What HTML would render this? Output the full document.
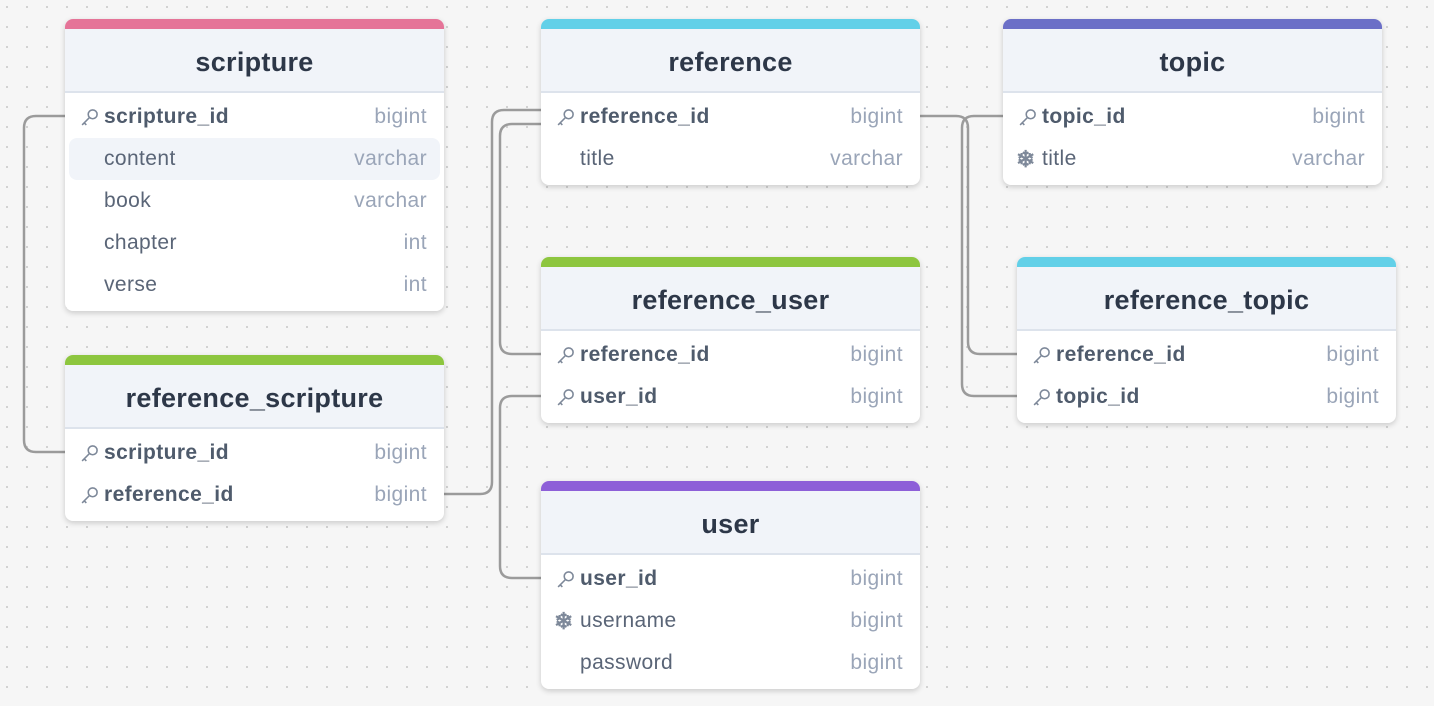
<!DOCTYPE html>
<html><head><meta charset="utf-8"><style>
body{margin:0;width:1434px;height:706px;overflow:hidden;background-color:#f6f6f6;background-image:radial-gradient(circle,#cfcfcf 1px,transparent 1.2px);background-size:20px 20px;background-position:-3px -3px;font-family:"Liberation Sans",sans-serif;position:relative}
.t{position:absolute;width:379px;background:#fff;border-radius:8px;box-shadow:0 2px 6px rgba(0,0,0,.18);overflow:hidden}
.bar{height:10px}
.h{height:62px;background:#f1f4f9;border-bottom:2px solid #dde3ec;text-align:center;line-height:66px;font-size:27px;font-weight:bold;color:#2d3748;letter-spacing:0.3px}
.rows{padding:3px 0 5px}
.r{height:42px;line-height:42px;position:relative;font-size:21px;letter-spacing:0.4px;color:#5a6577}
.r.hl{background:#f1f4f9;margin:0 4px;border-radius:8px}
.r.hl .n{left:35px}.r.hl .ty{right:13px}
.n{position:absolute;left:39px}
.n.b{font-weight:bold;color:#4f5b6c}
.ty{position:absolute;right:17px;color:#9aa5b8}
.ic{position:absolute;left:15px;top:12px;width:19px;height:19px}
.sn{position:absolute;left:13px;top:0;font-size:23px;font-weight:bold;color:#7d8899}
svg.c{position:absolute;left:0;top:0}
</style></head><body>
<svg class="c" width="1434" height="706"><g fill="none" stroke="#9b9b9b" stroke-width="2.5">
<path d="M65 116 H36 Q24 116 24 128 V440 Q24 452 36 452 H65"/>
<path d="M444 494 H480 Q492 494 492 482 V122 Q492 110 504 110 H541"/>
<path d="M541 354 H512 Q500 354 500 342 V136 Q500 124 512 124 H541"/>
<path d="M541 396 H512 Q500 396 500 408 V566 Q500 578 512 578 H541"/>
<path d="M920 116 H956 Q968 116 968 128 V342 Q968 354 980 354 H1017"/>
<path d="M1003 116 H974 Q962 116 962 128 V384 Q962 396 974 396 H1017"/>
</g></svg>

<div class="t" style="left:65px;top:19px"><div class="bar" style="background:#e57498"></div><div class="h">scripture</div><div class="rows">
<div class="r"><svg class="ic" viewBox="0 0 18 18"><g fill="none" stroke="#7d8899" stroke-width="1.5"><circle cx="12" cy="6" r="4.2"/><path d="M9 9 L2 16 M4 14 L6 16"/></g></svg><span class="n b">scripture_id</span><span class="ty">bigint</span></div>
<div class="r hl"><span class="n">content</span><span class="ty">varchar</span></div>
<div class="r"><span class="n">book</span><span class="ty">varchar</span></div>
<div class="r"><span class="n">chapter</span><span class="ty">int</span></div>
<div class="r"><span class="n">verse</span><span class="ty">int</span></div>
</div></div>

<div class="t" style="left:65px;top:355px"><div class="bar" style="background:#8dc63f"></div><div class="h">reference_scripture</div><div class="rows">
<div class="r"><svg class="ic" viewBox="0 0 18 18"><g fill="none" stroke="#7d8899" stroke-width="1.5"><circle cx="12" cy="6" r="4.2"/><path d="M9 9 L2 16 M4 14 L6 16"/></g></svg><span class="n b">scripture_id</span><span class="ty">bigint</span></div>
<div class="r"><svg class="ic" viewBox="0 0 18 18"><g fill="none" stroke="#7d8899" stroke-width="1.5"><circle cx="12" cy="6" r="4.2"/><path d="M9 9 L2 16 M4 14 L6 16"/></g></svg><span class="n b">reference_id</span><span class="ty">bigint</span></div>
</div></div>

<div class="t" style="left:541px;top:19px"><div class="bar" style="background:#62d0e8"></div><div class="h">reference</div><div class="rows">
<div class="r"><svg class="ic" viewBox="0 0 18 18"><g fill="none" stroke="#7d8899" stroke-width="1.5"><circle cx="12" cy="6" r="4.2"/><path d="M9 9 L2 16 M4 14 L6 16"/></g></svg><span class="n b">reference_id</span><span class="ty">bigint</span></div>
<div class="r"><span class="n">title</span><span class="ty">varchar</span></div>
</div></div>

<div class="t" style="left:541px;top:257px"><div class="bar" style="background:#8dc63f"></div><div class="h">reference_user</div><div class="rows">
<div class="r"><svg class="ic" viewBox="0 0 18 18"><g fill="none" stroke="#7d8899" stroke-width="1.5"><circle cx="12" cy="6" r="4.2"/><path d="M9 9 L2 16 M4 14 L6 16"/></g></svg><span class="n b">reference_id</span><span class="ty">bigint</span></div>
<div class="r"><svg class="ic" viewBox="0 0 18 18"><g fill="none" stroke="#7d8899" stroke-width="1.5"><circle cx="12" cy="6" r="4.2"/><path d="M9 9 L2 16 M4 14 L6 16"/></g></svg><span class="n b">user_id</span><span class="ty">bigint</span></div>
</div></div>

<div class="t" style="left:541px;top:481px"><div class="bar" style="background:#8d5fd8"></div><div class="h">user</div><div class="rows">
<div class="r"><svg class="ic" viewBox="0 0 18 18"><g fill="none" stroke="#7d8899" stroke-width="1.5"><circle cx="12" cy="6" r="4.2"/><path d="M9 9 L2 16 M4 14 L6 16"/></g></svg><span class="n b">user_id</span><span class="ty">bigint</span></div>
<div class="r"><span class="sn">❄</span><span class="n">username</span><span class="ty">bigint</span></div>
<div class="r"><span class="n">password</span><span class="ty">bigint</span></div>
</div></div>

<div class="t" style="left:1003px;top:19px"><div class="bar" style="background:#6b6fc7"></div><div class="h">topic</div><div class="rows">
<div class="r"><svg class="ic" viewBox="0 0 18 18"><g fill="none" stroke="#7d8899" stroke-width="1.5"><circle cx="12" cy="6" r="4.2"/><path d="M9 9 L2 16 M4 14 L6 16"/></g></svg><span class="n b">topic_id</span><span class="ty">bigint</span></div>
<div class="r"><span class="sn">❄</span><span class="n">title</span><span class="ty">varchar</span></div>
</div></div>

<div class="t" style="left:1017px;top:257px"><div class="bar" style="background:#62d0e8"></div><div class="h">reference_topic</div><div class="rows">
<div class="r"><svg class="ic" viewBox="0 0 18 18"><g fill="none" stroke="#7d8899" stroke-width="1.5"><circle cx="12" cy="6" r="4.2"/><path d="M9 9 L2 16 M4 14 L6 16"/></g></svg><span class="n b">reference_id</span><span class="ty">bigint</span></div>
<div class="r"><svg class="ic" viewBox="0 0 18 18"><g fill="none" stroke="#7d8899" stroke-width="1.5"><circle cx="12" cy="6" r="4.2"/><path d="M9 9 L2 16 M4 14 L6 16"/></g></svg><span class="n b">topic_id</span><span class="ty">bigint</span></div>
</div></div>
</body></html>
